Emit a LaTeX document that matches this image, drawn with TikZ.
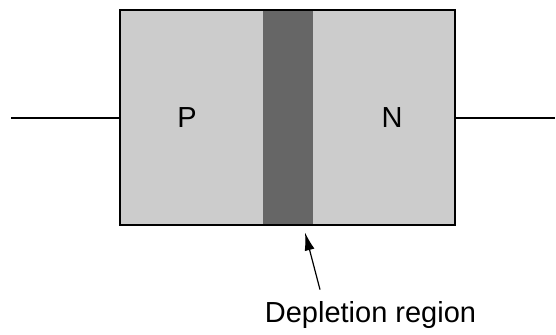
\documentclass[tikz,border=0pt]{standalone}
\usepackage{fontspec}
\setmainfont{Liberation Sans}
\usetikzlibrary{positioning,arrows.meta}

\begin{document}
\begin{tikzpicture}[
x = 0.5pt, y = -0.5pt,
font = \fontsize{14.5}{17}\selectfont,
diode/.style={rectangle, draw=black, line width=1pt, fill=black!20, minimum width=167.5pt, minimum height=107.5pt, inner sep=0pt},
depletion/.style={rectangle, fill=black!60, minimum width=25pt, minimum height=106.5pt, inner sep=0pt},
lead/.style={line width=1pt},
pointer/.style={-{Latex[length=9pt,width=5pt]}, line width=0.6pt},
tag/.style={inner sep=0pt}]

\useasboundingbox (0,0) rectangle (556,334);

\node[diode] (diode) at (287.5,117.5) {};
\node[depletion] (depl) at (288,117.5) {};
\node[tag] (p) at (187,118) {P};
\node[tag] (n) at (392,118) {N};
\node[tag, anchor=base] (label) at (370.5,322) {Depletion region};

\coordinate (lin) at (11,117.5);
\coordinate (rout) at (555,117.5);

\draw[lead] (lin) -- (diode.west);
\draw[lead] (diode.east) -- (rout);
\draw[pointer] ([xshift=-25.25pt, yshift=5.5pt]label.north) -- ([xshift=8.5pt, yshift=-4pt]depl.south);
\end{tikzpicture}
\end{document}
